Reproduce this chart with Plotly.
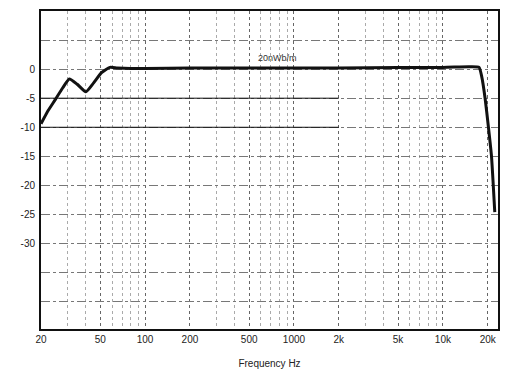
import plotly.graph_objects as go

# Frequency response data (Hz, dB)
freq_hz = [20, 22, 25, 28, 31, 35, 40, 45, 51, 58, 65, 80, 100, 200, 500,
           1000, 2000, 5000, 10000, 15000, 17500, 18200, 19200, 20200, 21200, 22300]
level_db = [-9.4, -7.4, -5.2, -3.2, -1.7, -2.6, -3.9, -2.4, -0.6, 0.3, 0.2, 0.1, 0.1,
            0.2, 0.2, 0.2, 0.2, 0.3, 0.3, 0.4, 0.3, -1.2, -5.0, -9.9, -15.0, -24.6]

x_tick_vals = [20, 50, 100, 200, 500, 1000, 2000, 5000, 10000, 20000]
x_tick_text = ["20", "50", "100", "200", "500", "1000", "2k", "5k", "10k", "20k"]
y_tick_vals = [5, 0, -5, -10, -15, -20, -25, -30, -35, -40]
y_tick_text = ["", "0", "-5", "-10", "-15", "-20", "-25", "-30", "", ""]

ref_lines_db = [-5, -10]
ref_line_span = [20, 2000]
annotation_text = "20nWb/m"
annotation_freq = 770
annotation_db = 2.0

font_family = "Liberation Sans, Arial, sans-serif"

fig = go.Figure()
fig.add_trace(go.Scatter(
    x=freq_hz, y=level_db, mode="lines",
    line=dict(color="#111111", width=3, shape="spline", smoothing=0.5),
    hoverinfo="skip", showlegend=False,
))

for y in ref_lines_db:
    fig.add_shape(type="line", xref="x", yref="y",
                  x0=ref_line_span[0], x1=ref_line_span[1], y0=y, y1=y,
                  line=dict(color="#111111", width=1))

import math
fig.add_annotation(x=math.log10(annotation_freq), y=annotation_db, xref="x", yref="y",
                   text=annotation_text, showarrow=False,
                   font=dict(size=9, color="#333333", family=font_family))

fig.update_layout(
    width=507, height=368,
    margin=dict(l=33, r=17, t=1, b=47),
    paper_bgcolor="white", plot_bgcolor="white",
    font=dict(family=font_family, size=10, color="#222222"),
    xaxis=dict(
        type="log", range=[1.30103, 4.37],
        tickvals=x_tick_vals, ticktext=x_tick_text,
        showgrid=True, gridcolor="#666666", griddash="dot", gridwidth=1,
        minor=dict(dtick="D1", showgrid=True, gridcolor="#aaaaaa", griddash="dot", gridwidth=1),
        showline=True, linecolor="#111111", linewidth=2, mirror=True,
        ticks="", zeroline=False,
        title=dict(text="Frequency Hz", font=dict(size=10), standoff=16),
        tickfont=dict(size=10),
    ),
    yaxis=dict(
        range=[-44.7, 10],
        tickvals=y_tick_vals, ticktext=y_tick_text,
        showgrid=True, gridcolor="#777777", griddash="dashdot", gridwidth=1,
        showline=True, linecolor="#111111", linewidth=2, mirror=True,
        ticks="", zeroline=False, tickfont=dict(size=10), ticklabelstandoff=2,
    ),
)

fig.write_html("out.html")
